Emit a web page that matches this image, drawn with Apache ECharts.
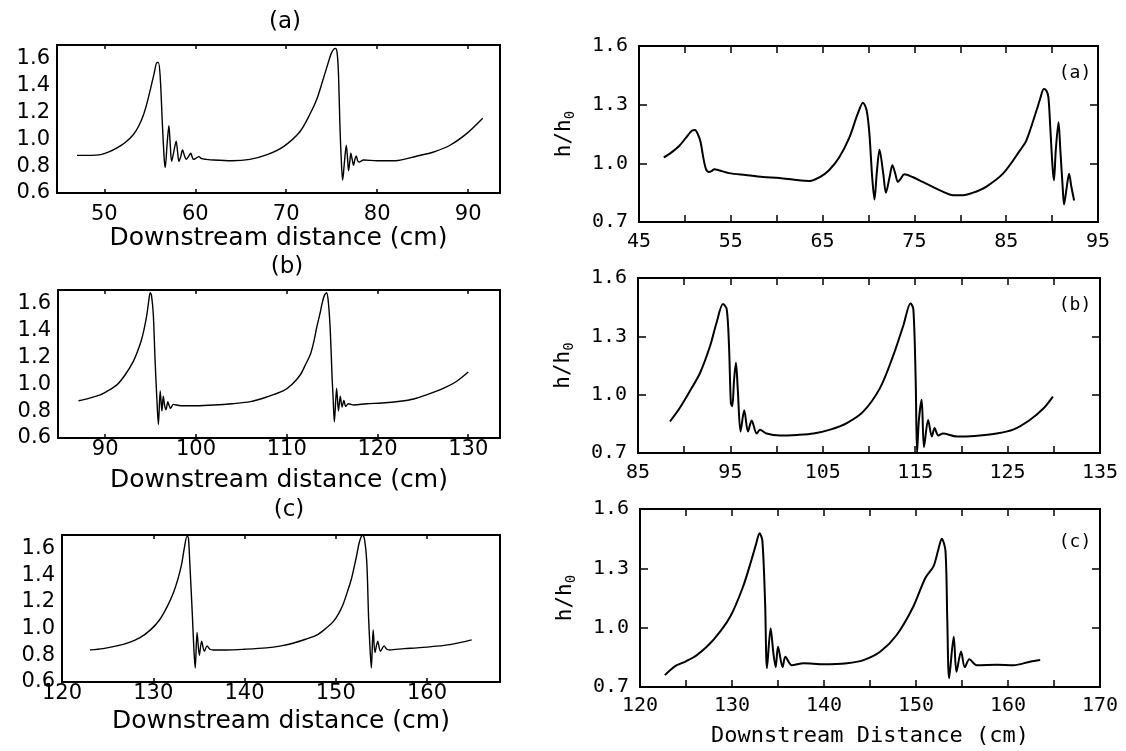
<!DOCTYPE html>
<html>
<head>
<meta charset="utf-8">
<script src="https://cdn.jsdelivr.net/npm/echarts@6/dist/echarts.min.js"></script>
<style>
html,body{margin:0;padding:0;background:#fff;}
#chart{width:1126px;height:751px;}
</style>
</head>
<body>
<div id="chart"></div>
<script>
// ---------- DATA ----------
// Left column: computed profiles, [distance (cm), h/h0]
const leftA = [[47.0,0.88],[48.5,0.88],[49.6,0.885],[50.5,0.905],[51.4,0.935],[52.3,0.975],[53.2,1.035],[53.8,1.10],[54.3,1.18],[54.7,1.27],[55.1,1.38],[55.45,1.48],[55.8,1.57],[55.95,1.57],[56.15,1.46],[56.4,1.09],[56.6,0.84],[56.7,0.79],[56.9,0.96],[57.1,1.10],[57.25,0.96],[57.4,0.835],[57.65,0.91],[57.9,0.985],[58.05,0.91],[58.2,0.835],[58.4,0.87],[58.6,0.92],[58.8,0.88],[59.0,0.85],[59.25,0.87],[59.5,0.895],[59.65,0.87],[59.8,0.85],[60.1,0.86],[60.4,0.87],[60.7,0.855],[61.2,0.85],[62.0,0.845],[64.0,0.84],[66.0,0.85],[67.9,0.885],[69.7,0.945],[71.5,1.055],[72.6,1.185],[73.4,1.305],[74.1,1.455],[74.65,1.575],[75.0,1.645],[75.4,1.675],[75.6,1.64],[75.75,1.475],[75.9,1.105],[76.05,0.85],[76.2,0.695],[76.4,0.83],[76.6,0.955],[76.75,0.85],[76.85,0.765],[77.0,0.84],[77.1,0.895],[77.25,0.85],[77.4,0.805],[77.55,0.85],[77.7,0.875],[77.85,0.84],[78.0,0.83],[78.5,0.845],[80.0,0.84],[82.0,0.84],[84.4,0.875],[86.2,0.905],[88.0,0.955],[89.9,1.045],[91.6,1.155]];
const leftB = [[87.06,0.877],[88.2,0.895],[89.45,0.92],[90.4,0.955],[91.3,0.995],[92.2,1.07],[93.1,1.17],[93.6,1.25],[94.0,1.33],[94.35,1.43],[94.6,1.52],[94.8,1.62],[94.96,1.68],[95.1,1.66],[95.3,1.52],[95.5,1.17],[95.7,0.88],[95.86,0.70],[96.06,0.95],[96.25,0.80],[96.4,0.91],[96.55,0.84],[96.7,0.81],[96.9,0.87],[97.05,0.84],[97.2,0.82],[97.5,0.85],[98.3,0.84],[100,0.84],[102,0.845],[104,0.855],[106,0.87],[107.8,0.905],[109.6,0.95],[110.6,1.0],[111.5,1.07],[112.1,1.15],[112.6,1.22],[113.0,1.32],[113.3,1.42],[113.65,1.52],[113.9,1.60],[114.15,1.66],[114.4,1.68],[114.6,1.6],[114.8,1.40],[115.0,1.05],[115.1,0.92],[115.25,0.72],[115.5,0.97],[115.7,0.80],[115.9,0.91],[116.1,0.83],[116.3,0.88],[116.5,0.835],[116.8,0.855],[117.4,0.845],[118.8,0.855],[120.5,0.86],[122.5,0.873],[124,0.89],[125.4,0.92],[127.3,0.97],[128.7,1.02],[130.0,1.09]];
const leftC = [[123.07,0.84],[124.5,0.85],[126.0,0.87],[127.3,0.895],[128.5,0.93],[129.7,0.99],[130.7,1.066],[131.5,1.16],[132.2,1.266],[132.7,1.37],[133.1,1.478],[133.4,1.6],[133.7,1.69],[133.85,1.68],[134.0,1.5],[134.3,1.08],[134.45,0.85],[134.6,0.705],[134.8,0.97],[135.05,0.80],[135.3,0.905],[135.6,0.83],[135.9,0.87],[136.2,0.845],[136.6,0.84],[138,0.84],[140,0.845],[142.4,0.855],[144,0.87],[145.3,0.89],[146.7,0.92],[147.9,0.95],[148.9,1.0],[149.7,1.05],[150.3,1.11],[150.8,1.18],[151.3,1.28],[151.75,1.38],[152.3,1.55],[152.6,1.65],[152.95,1.70],[153.15,1.67],[153.4,1.50],[153.6,1.08],[153.75,0.86],[153.9,0.705],[154.1,0.99],[154.3,0.82],[154.6,0.905],[154.9,0.83],[155.3,0.87],[155.6,0.845],[155.9,0.84],[157.5,0.85],[158.9,0.855],[160.5,0.865],[162.5,0.88],[164.9,0.915]];
// Right column: measured profiles, [distance (cm), h/h0]
const rightA = [[47.7,1.03],[48.5,1.055],[49.4,1.09],[50.1,1.13],[50.8,1.168],[51.1,1.17],[51.4,1.15],[51.7,1.11],[52.0,1.03],[52.3,0.97],[52.6,0.956],[52.9,0.96],[53.2,0.97],[53.7,0.965],[54.8,0.95],[56.6,0.94],[58.5,0.93],[60.3,0.925],[62.1,0.915],[63.6,0.91],[64.7,0.93],[65.7,0.965],[66.8,1.03],[67.9,1.13],[68.8,1.25],[69.4,1.31],[69.8,1.27],[70.1,1.15],[70.4,0.93],[70.65,0.815],[70.9,0.95],[71.2,1.07],[71.6,0.95],[71.9,0.85],[72.3,0.93],[72.6,0.99],[72.9,0.95],[73.2,0.905],[73.5,0.92],[73.9,0.944],[74.8,0.93],[75.9,0.905],[77.0,0.88],[78.1,0.855],[79.2,0.837],[80.3,0.837],[81.4,0.85],[82.8,0.88],[84.7,0.95],[86.5,1.066],[87.2,1.117],[88.3,1.27],[88.7,1.33],[89.1,1.38],[89.4,1.37],[89.6,1.337],[89.8,1.185],[90.05,0.98],[90.2,0.913],[90.4,1.066],[90.7,1.21],[90.9,1.066],[91.15,0.88],[91.3,0.79],[91.6,0.88],[91.85,0.947],[92.1,0.88],[92.4,0.81]];
const rightB = [[88.46,0.862],[89.5,0.93],[90.6,1.017],[91.7,1.11],[92.8,1.25],[93.5,1.37],[94.2,1.466],[94.6,1.44],[94.85,1.25],[95.05,0.957],[95.2,0.94],[95.4,1.078],[95.6,1.164],[95.8,1.026],[96.1,0.81],[96.5,0.92],[96.9,0.81],[97.3,0.867],[97.85,0.80],[98.2,0.82],[98.9,0.80],[100.4,0.79],[102.2,0.793],[104.0,0.80],[105.8,0.82],[107.6,0.854],[109.4,0.914],[111.2,1.035],[112.6,1.198],[113.7,1.353],[114.5,1.47],[114.8,1.44],[115.05,1.08],[115.2,0.70],[115.4,0.87],[115.7,0.974],[115.95,0.73],[116.4,0.87],[116.8,0.785],[117.1,0.828],[117.5,0.79],[118.0,0.80],[119.5,0.785],[120.2,0.785],[122.0,0.79],[123.8,0.80],[125.6,0.82],[127.4,0.87],[128.9,0.93],[129.9,0.99]];
const rightC = [[122.7,0.76],[123.3,0.786],[124.0,0.81],[125.0,0.83],[126.2,0.862],[128.0,0.94],[129.8,1.055],[131.2,1.207],[132.1,1.34],[132.6,1.42],[133.0,1.477],[133.3,1.44],[133.6,1.123],[133.8,0.795],[134.2,0.997],[134.5,0.87],[134.75,0.80],[135.0,0.904],[135.5,0.80],[135.8,0.853],[136.5,0.81],[137.8,0.82],[139.9,0.815],[142.5,0.82],[144.3,0.836],[146.1,0.878],[147.9,0.963],[149.7,1.106],[151.0,1.25],[151.9,1.31],[152.4,1.39],[152.8,1.45],[153.2,1.39],[153.4,1.04],[153.6,0.744],[154.1,0.954],[154.4,0.777],[154.9,0.88],[155.3,0.80],[155.8,0.84],[156.6,0.81],[158.8,0.812],[160.6,0.81],[162.4,0.828],[163.5,0.836]];

// Tick labels
const leftYTicks = [0.6,0.8,1.0,1.2,1.4,1.6];
const leftATicks = [50,60,70,80,90];
const leftBTicks = [90,100,110,120,130];
const leftCTicks = [120,130,140,150,160];
const rightYTicks = [0.7,1.0,1.3,1.6];
const rightATicks = [45,55,65,75,85,95];
const rightAMinor = [45,50,55,60,65,70,75,80,85,90,95];
const rightBTicks = [85,95,105,115,125,135];
const rightBMinor = [85,90,95,100,105,110,115,120,125,130,135];
const rightCTicks = [120,130,140,150,160,170];
const rightCMinor = [120,125,130,135,140,145,150,155,160,165,170];
const panelLetters = ['(a)','(b)','(c)'];
const xName = 'Downstream distance (cm)';
const xNameRight = 'Downstream Distance (cm)';
const yNameRight = 'h/h{s|0}';

// ---------- LAYOUT ----------
const LF = 'DejaVu Sans';
const RF = 'DejaVu Sans Mono';
const grids = [
  {left:57, top:45, width:443, height:148},
  {left:58, top:290, width:442, height:148},
  {left:62, top:535, width:438, height:147},
  {left:639, top:46, width:459, height:176},
  {left:638, top:278, width:462, height:175},
  {left:640, top:509, width:460, height:178}
].map(g => Object.assign({show:true, borderColor:'#000', borderWidth:2, backgroundColor:'transparent', containLabel:false}, g));

const xRanges = [[44.8,93.5],[84.8,133.5],[120,168],[45,95],[85,135],[120,170]];
const xLabelVals = [leftATicks,leftBTicks,leftCTicks,rightATicks,rightBTicks,rightCTicks];
const xTickVals = [leftATicks,leftBTicks,leftCTicks,rightAMinor,rightBMinor,rightCMinor];
const xMargins = [11,1,1,10,10,9];

const xAxis = [];
const yAxis = [];
for (let i = 0; i < 6; i++) {
  const left = i < 3;
  const font = left ? LF : RF;
  const fs = left ? 21 : 20;
  const tickLen = left ? 4 : 7;
  const bottom = {
    type:'value', gridIndex:i, position:'bottom',
    min:xRanges[i][0], max:xRanges[i][1],
    splitLine:{show:false}, axisLine:{show:false},
    axisTick:{show:true, inside:true, length:tickLen, customValues:xTickVals[i], lineStyle:{color:'#000', width:1.5}},
    axisLabel:{show:true, customValues:xLabelVals[i], margin:xMargins[i], color:'#000', fontFamily:font, fontSize:fs,
      formatter: v => String(Math.round(v))}
  };
  if (left) {
    bottom.name = xName;
    bottom.nameLocation = 'middle';
    bottom.nameGap = [23,30,27][i];
    bottom.nameTextStyle = {fontFamily:LF, fontSize:25, color:'#000'};
  } else if (i === 5) {
    bottom.name = xNameRight;
    bottom.nameLocation = 'middle';
    bottom.nameGap = 38;
    bottom.nameTextStyle = {fontFamily:RF, fontSize:22, color:'#000'};
  }
  xAxis.push(bottom);
  xAxis.push({
    type:'value', gridIndex:i, position:'top',
    min:xRanges[i][0], max:xRanges[i][1],
    splitLine:{show:false}, axisLine:{show:false}, axisLabel:{show:false},
    axisTick:{show:true, inside:true, length:tickLen, customValues:xTickVals[i], lineStyle:{color:'#000', width:1.5}}
  });
}
// y axes
const yMaps = [];
for (let i = 0; i < 6; i++) {
  const left = i < 3;
  const ya = {
    type:'value', gridIndex:i, position:'left',
    min: left ? 0.6 : 0.7, max: left ? 1.7 : 1.6,
    splitLine:{show:false}, axisLine:{show:false},
    axisTick: left ? {show:false} : {show:true, inside:true, length:8, customValues:rightYTicks, lineStyle:{color:'#000', width:1.5}},
    axisLabel:{show:true, customValues: left ? leftYTicks : rightYTicks, margin: left ? 7 : 11, color:'#000',
      fontFamily: left ? LF : RF, fontSize: left ? 21 : 20, formatter: v => v.toFixed(1)}
  };
  if (!left) {
    ya.name = yNameRight;
    ya.nameLocation = 'middle';
    ya.nameGap = 62;
    ya.nameRotate = 90;
    ya.nameTextStyle = {fontFamily:RF, fontSize:21, color:'#000',
      rich:{s:{fontFamily:RF, fontSize:14, color:'#000', padding:[10,0,0,0], verticalAlign:'top'}}};
  }
  yMaps.push(yAxis.length);
  yAxis.push(ya);
  if (!left) {
    yAxis.push({
      type:'value', gridIndex:i, position:'right', min:0.7, max:1.6,
      splitLine:{show:false}, axisLine:{show:false}, axisLabel:{show:false},
      axisTick:{show:true, inside:true, length:8, customValues:rightYTicks, lineStyle:{color:'#000', width:1.5}}
    });
  }
}

const datasets = [leftA, leftB, leftC, rightA, rightB, rightC];
const series = datasets.map((d, i) => ({
  type:'line', xAxisIndex: i*2, yAxisIndex: yMaps[i], data: d,
  showSymbol:false, smooth:0.3, clip:true,
  lineStyle:{color:'#000', width: i < 3 ? 1.4 : 2}
}));

// panel letters
const graphic = [];
const leftLetterPos = [[285,22],[287,267],[289,510]];
const rightLetterPos = [[1075,73],[1075,305],[1075,542]];
for (let i = 0; i < 3; i++) {
  graphic.push({type:'text', x:leftLetterPos[i][0], y:leftLetterPos[i][1],
    style:{text:panelLetters[i], fontFamily:LF, fontSize:23, fill:'#000', align:'center', verticalAlign:'middle'}});
  graphic.push({type:'text', x:rightLetterPos[i][0], y:rightLetterPos[i][1],
    style:{text:panelLetters[i], fontFamily:RF, fontSize:18, fill:'#000', align:'center', verticalAlign:'middle'}});
}

const chart = echarts.init(document.getElementById('chart'), null, {renderer:'canvas'});
chart.setOption({
  backgroundColor:'#fff',
  animation:false,
  grid: grids,
  xAxis: xAxis,
  yAxis: yAxis,
  series: series,
  graphic: graphic
});
</script>
</body>
</html>
